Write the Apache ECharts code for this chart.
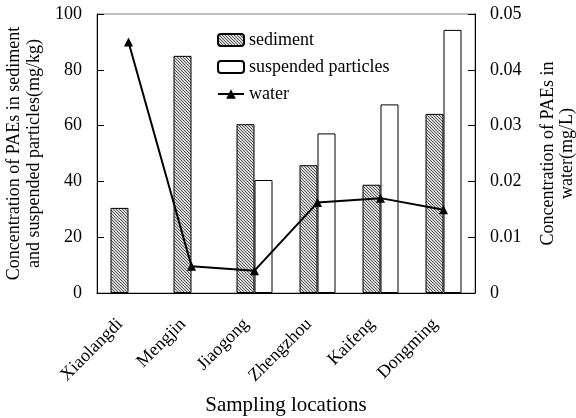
<!DOCTYPE html>
<html><head><meta charset="utf-8">
<script src="https://cdn.jsdelivr.net/npm/echarts@6/dist/echarts.min.js"></script>
<style>html,body{margin:0;padding:0;background:#fff}#c{width:576px;height:418px}</style>
</head><body><div id="c"></div>
<script>
const categories = ['Xiaolangdi','Mengjin','Jiaogong','Zhengzhou','Kaifeng','Dongming'];
const sediment = [30.5, 85, 60.5, 45.8, 38.8, 64.2];
const suspended = [null, null, 40.5, 57.2, 67.6, 94.3];
const water = [0.045, 0.0048, 0.004, 0.0162, 0.017, 0.0149];
const leftTicks = [0, 20, 40, 60, 80, 100];
const rightTicks = [0, 0.01, 0.02, 0.03, 0.04, 0.05];

const cv = document.createElement('canvas');
cv.width = 3; cv.height = 3;
const cx = cv.getContext('2d');
cx.fillStyle = '#d8d8d8'; cx.fillRect(0,0,3,3);
cx.fillStyle = '#5a5a5a';
cx.fillRect(0,0,1,1); cx.fillRect(1,1,1,1); cx.fillRect(2,2,1,1);

const font = 'Liberation Serif';
const chart = echarts.init(document.getElementById('c'));
chart.setOption({
  animation: false,
  textStyle: {fontFamily: font},
  grid: {left: 97, right: 101, top: 14, bottom: 125, show: true, borderColor: '#808080', borderWidth: 1, outerBoundsMode: 'none', containLabel: false},
  legend: {
    orient: 'vertical', left: 212, top: 26, itemWidth: 26, itemHeight: 12, itemGap: 9,
    textStyle: {fontFamily: font, fontSize: 18, color: '#000'},
    data: ['sediment','suspended particles','water']
  },
  xAxis: {
    type: 'category', data: categories,
    name: 'Sampling locations', nameLocation: 'middle', nameGap: 102,
    nameTextStyle: {fontFamily: font, fontSize: 21, color: '#000'},
    axisLine: {lineStyle: {color: '#000'}},
    axisTick: {inside: true, length: 7, lineStyle: {color: '#000'}},
    axisLabel: {rotate: 45, fontFamily: font, fontSize: 18, color: '#000', margin: 20, padding: [0, 12, 0, 0]}
  },
  yAxis: [{
    type: 'value', min: 0, max: 100, interval: 20,
    name: 'Concentration of PAEs in sediment\nand suspended particles(mg/kg)',
    nameLocation: 'middle', nameGap: 52, nameRotate: 90,
    nameTextStyle: {fontFamily: font, fontSize: 18, color: '#000', lineHeight: 20},
    axisLine: {show: true, lineStyle: {color: '#000'}},
    axisTick: {show: true, inside: true, length: 7, lineStyle: {color: '#000'}},
    axisLabel: {fontFamily: font, fontSize: 18, color: '#000', margin: 15},
    splitLine: {show: false}
  }, {
    type: 'value', min: 0, max: 0.05, interval: 0.01,
    name: 'Concentration of PAEs in\nwater(mg/L)',
    nameLocation: 'middle', nameGap: 64, nameRotate: 90,
    nameTextStyle: {fontFamily: font, fontSize: 18, color: '#000', lineHeight: 19},
    axisLine: {show: true, lineStyle: {color: '#000'}},
    axisTick: {show: true, inside: true, length: 7, lineStyle: {color: '#000'}},
    axisLabel: {fontFamily: font, fontSize: 18, color: '#000', margin: 15,
      formatter: v => v === 0 ? '0' : v.toFixed(2)},
    splitLine: {show: false}
  }],
  series: [{
    name: 'sediment', type: 'bar', data: sediment, barWidth: 18, barGap: '0%',
    itemStyle: {color: {image: cv, repeat: 'repeat'}, borderColor: '#000', borderWidth: 1}
  }, {
    name: 'suspended particles', type: 'bar', data: suspended, barWidth: 18, barGap: '0%',
    itemStyle: {color: '#fff', borderColor: '#000', borderWidth: 1}
  }, {
    name: 'water', type: 'line', yAxisIndex: 1, data: water,
    symbol: 'triangle', symbolSize: 9,
    lineStyle: {color: '#000', width: 2},
    itemStyle: {color: '#000'}
  }]
});
</script></body></html>
